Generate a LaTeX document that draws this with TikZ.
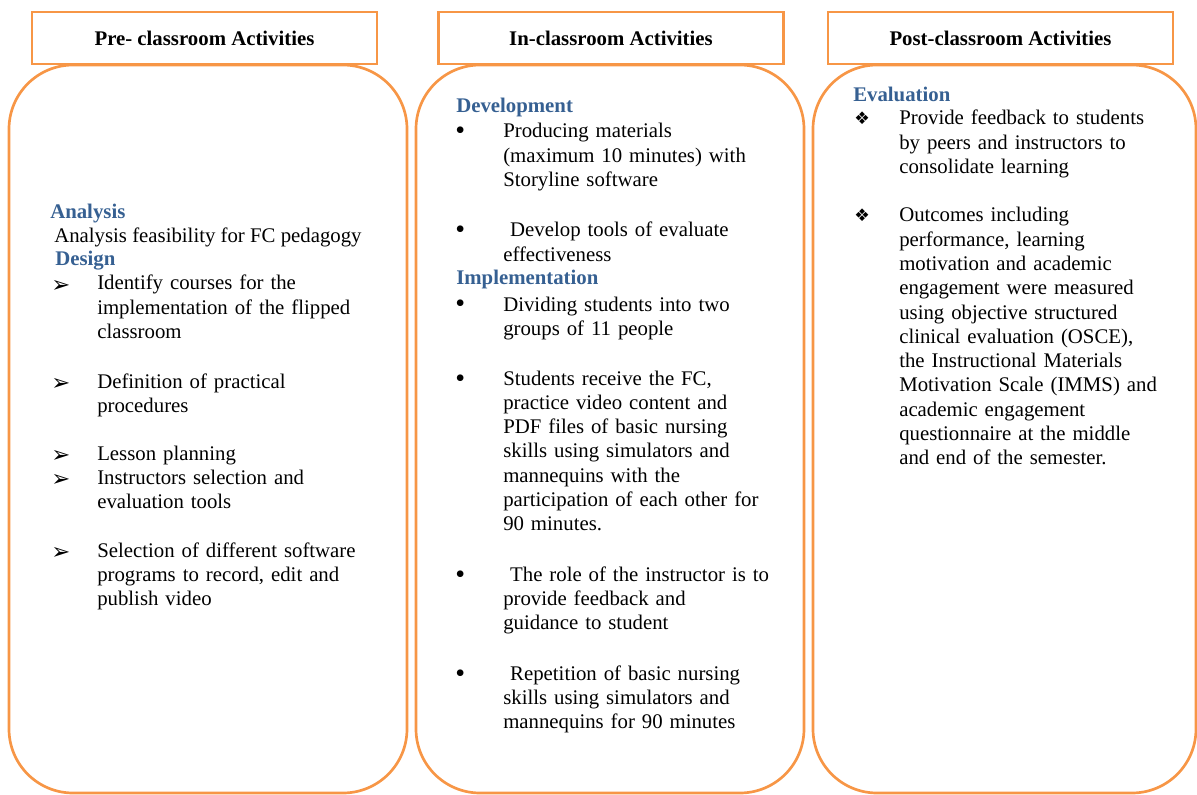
\documentclass[tikz,border=0pt]{standalone}
\usepackage{fontspec}
\setmainfont{Liberation Serif}
\newfontfamily\dingfont{DejaVu Sans}
\usepackage{tikz}
\definecolor{fcorange}{RGB}{247,150,70}
\definecolor{fcblue}{RGB}{54,96,146}
\newcommand{\fcbody}{\fontsize{15.6pt}{18.2pt}\selectfont}

\begin{document}
\begin{tikzpicture}[x=0.75pt, y=-0.75pt,
        panel/.style={draw=fcorange, line width=2pt, rounded corners=48pt, minimum height=546pt},
        header/.style={draw=fcorange, line width=2pt, fill=white, minimum width=258.75pt, minimum height=39pt, font=\fcbody\bfseries},
        heading/.style={anchor=base west, inner sep=0pt, font=\fcbody\bfseries, text=fcblue},
        plain/.style={anchor=base west, inner sep=0pt, font=\fcbody},
        item/.style={anchor=base west, inner sep=0pt, text width=240pt, align=left, font=\fcbody},
        arrowmark/.style={anchor=base west, inner sep=0pt, font=\dingfont\fontsize{17pt}{17pt}\selectfont},
        dotmark/.style={anchor=base west, inner sep=0pt, font=\fontsize{21pt}{21pt}\selectfont},
        diamondmark/.style={anchor=base west, inner sep=0pt, font=\dingfont\fontsize{13pt}{13pt}\selectfont}
    ]
        \useasboundingbox (0,0) rectangle (1197,795);

        \node[panel, minimum width=298.5pt] (pre) at (208,429) {};
        \node[panel, minimum width=291pt] (inclass) at (610,429) {};
        \node[panel, minimum width=287.25pt] (post) at (1004.5,429) {};

        \node[header] (prehead) at (204.5,38) {Pre- classroom Activities};
        \node[header] (inhead) at (611,38) {In-classroom Activities};
        \node[header] (posthead) at (1000.5,38) {Post-classroom Activities};

        \node[heading] (analysis) at (50,219) {Analysis};
        \node[plain] (feasibility) at (54,243) {Analysis feasibility for FC pedagogy};
        \node[heading] (design) at (55,266) {Design};
        \node[arrowmark] (dmark1) at (51,292) {➢};
        \node[item] (design1) at (97,290) {Identify courses for the\\implementation of the flipped\\classroom};
        \node[arrowmark] (dmark2) at (51,390) {➢};
        \node[item] (design2) at (97,388) {Definition of practical\\procedures};
        \node[arrowmark] (dmark3) at (51,462) {➢};
        \node[item] (design3) at (97,460) {Lesson planning};
        \node[arrowmark] (dmark4) at (51,486) {➢};
        \node[item] (design4) at (97,484) {Instructors selection and\\evaluation tools};
        \node[arrowmark] (dmark5) at (51,559) {➢};
        \node[item] (design5) at (97,557) {Selection of different software\\programs to record, edit and\\publish video};

        \node[heading] (development) at (456,113) {Development};
        \node[dotmark] (devmark1) at (455,140) {•};
        \node[item] (dev1) at (503,138) {Producing materials\\(maximum 10 minutes) with\\Storyline software};
        \node[dotmark] (devmark2) at (455,239) {•};
        \node[item] (dev2) at (503,237) {\ Develop tools of evaluate\\effectiveness};
        \node[heading] (implementation) at (456,285) {Implementation};
        \node[dotmark] (impmark1) at (455,313) {•};
        \node[item] (imp1) at (503,311) {Dividing students into two\\groups of 11 people};
        \node[dotmark] (impmark2) at (455,387) {•};
        \node[item] (imp2) at (503,385) {Students receive the FC,\\practice video content and\\PDF files of basic nursing\\skills using simulators and\\mannequins with the\\participation of each other for\\90 minutes.};
        \node[dotmark] (impmark3) at (455,583) {•};
        \node[item] (imp3) at (503,581) {\ The role of the instructor is to\\provide feedback and\\guidance to student};
        \node[dotmark] (impmark4) at (455,682) {•};
        \node[item] (imp4) at (503,680) {\ Repetition of basic nursing\\skills using simulators and\\mannequins for 90 minutes};

        \node[heading] (evaluation) at (853,102) {Evaluation};
        \node[diamondmark] (evmark1) at (854,125) {❖};
        \node[item] (eval1) at (899,125) {Provide feedback to students\\by peers and instructors to\\consolidate learning};
        \node[diamondmark] (evmark2) at (854,222) {❖};
        \node[item] (eval2) at (899,222) {Outcomes including\\performance, learning\\motivation and academic\\engagement were measured\\using objective structured\\clinical evaluation (OSCE),\\the Instructional Materials\\Motivation Scale (IMMS) and\\academic engagement\\questionnaire at the middle\\and end of the semester.};

    \end{tikzpicture}
\end{document}
